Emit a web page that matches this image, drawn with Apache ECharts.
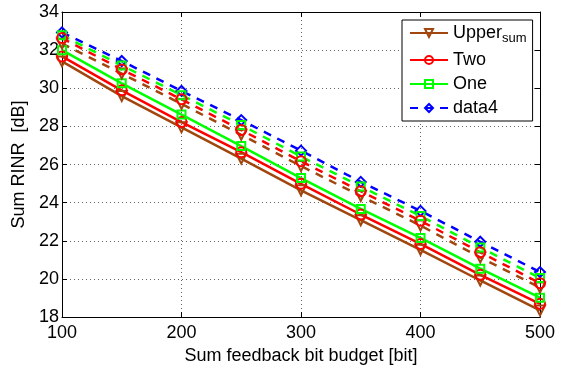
<!DOCTYPE html>
<html>
<head>
<meta charset="utf-8">
<script src="https://cdn.jsdelivr.net/npm/echarts@6/dist/echarts.min.js"></script>
<style>
html, body { margin: 0; padding: 0; background: #fff; }
#chart { width: 561px; height: 370px; }
</style>
</head>
<body>
<div id="chart"></div>
<script>
var bits = [100, 150, 200, 250, 300, 350, 400, 450, 500];
var upperSolid = [31.41, 29.59, 27.95, 26.31, 24.65, 23.08, 21.53, 19.92, 18.35];
var twoSolid = [31.67, 29.89, 28.23, 26.65, 24.99, 23.38, 21.84, 20.22, 18.70];
var oneSolid = [32.00, 30.26, 28.62, 26.97, 25.29, 23.67, 22.15, 20.54, 19.02];
var data4 = [32.93, 31.43, 29.86, 28.33, 26.73, 25.09, 23.57, 21.95, 20.36];
var upperDash = [32.34, 30.77, 29.18, 27.56, 25.92, 24.35, 22.80, 21.13, 19.55];
var twoDash = [32.63, 30.99, 29.42, 27.81, 26.17, 24.60, 23.05, 21.40, 19.78];
var oneDash = [32.78, 31.20, 29.64, 28.07, 26.42, 24.85, 23.30, 21.65, 20.05];

var brown = '#a0460e', red = '#ff0000', green = '#00ff00', blue = '#0000ff';
var font = 'Liberation Sans, Arial, Helvetica, sans-serif';

function pairs(values) {
    var out = [];
    for (var i = 0; i < bits.length; i++) {
        out.push([bits[i], values[i]]);
    }
    return out;
}

function makeLine(name, values, color, symbol, dashed, rotate) {
    return {
        name: name,
        type: 'line',
        data: pairs(values),
        symbol: symbol,
        symbolSize: symbol === 'rect' ? 8 : 10,
        symbolRotate: rotate || 0,
        showAllSymbol: true,
        animation: false,
        lineStyle: { color: color, width: 2.5, type: dashed ? [8, 7] : 'solid' },
        itemStyle: { color: 'rgba(0,0,0,0)', borderColor: color, borderWidth: 2 },
        emphasis: { disabled: true }
    };
}

// extra axes only for the box and the inward ticks on top / right
function tickAxis(pos, isX) {
    return {
        type: 'value',
        position: pos,
        min: isX ? 100 : 18,
        max: isX ? 500 : 34,
        interval: isX ? 100 : 2,
        axisLine: { show: true, onZero: false, lineStyle: { color: '#000', width: 1 } },
        axisTick: { show: true, inside: true, length: 5, lineStyle: { color: '#000' } },
        axisLabel: { show: false },
        splitLine: { show: false }
    };
}

var chart = echarts.init(document.getElementById('chart'));

var option = {
    backgroundColor: '#fff',
    grid: { left: 62, right: 21, top: 12, bottom: 42 },
    legend: {
        data: ['Upper', 'Two', 'One', 'data4'],
        orient: 'vertical',
        left: 402,
        top: 20,
        backgroundColor: '#fff',
        borderColor: '#000',
        borderWidth: 1,
        borderRadius: 0,
        padding: [4, 6, 4, 7],
        itemGap: 6,
        itemWidth: 38,
        itemHeight: 10,
        align: 'left',
        formatter: function (name) {
            return name === 'Upper' ? '{m|Upper}{s|sum}' : '{m|' + name + '}';
        },
        textStyle: {
            color: '#000',
            fontFamily: font,
            fontSize: 18,
            rich: {
                m: { fontSize: 18, fontFamily: font, color: '#000' },
                s: { fontSize: 13, fontFamily: font, color: '#000', padding: [11, 0, 0, 0] }
            }
        }
    },
    xAxis: [{
        type: 'value',
        min: 100,
        max: 500,
        interval: 100,
        name: 'Sum feedback bit budget [bit]',
        nameLocation: 'middle',
        nameGap: 27,
        nameTextStyle: { color: '#000', fontFamily: font, fontSize: 18 },
        axisLine: { show: true, onZero: false, lineStyle: { color: '#000', width: 1 } },
        axisTick: { show: true, inside: true, length: 5, lineStyle: { color: '#000' } },
        axisLabel: { color: '#000', fontFamily: font, fontSize: 18, margin: 7 },
        splitLine: { show: true, lineStyle: { color: '#666', type: [1, 3], width: 1 } }
    }, tickAxis('top', true)],
    yAxis: [{
        type: 'value',
        min: 18,
        max: 34,
        interval: 2,
        name: 'Sum RINR  [dB]',
        nameLocation: 'middle',
        nameGap: 25,
        nameTextStyle: { color: '#000', fontFamily: font, fontSize: 18 },
        axisLine: { show: true, onZero: false, lineStyle: { color: '#000', width: 1 } },
        axisTick: { show: true, inside: true, length: 5, lineStyle: { color: '#000' } },
        axisLabel: { color: '#000', fontFamily: font, fontSize: 18, margin: 3 },
        splitLine: { show: true, lineStyle: { color: '#666', type: [1, 3], width: 1 } }
    }, tickAxis('right', false)],
    series: [
        makeLine('Upper', upperSolid, brown, 'triangle', false, 180),
        makeLine('Two', twoSolid, red, 'circle', false),
        makeLine('One', oneSolid, green, 'rect', false),
        makeLine('data4', data4, blue, 'diamond', true),
        makeLine('Upper dashed', upperDash, brown, 'triangle', true, 180),
        makeLine('One dashed', oneDash, green, 'rect', true),
        makeLine('Two dashed', twoDash, red, 'circle', true)
    ]
};

chart.setOption(option);
</script>
</body>
</html>
